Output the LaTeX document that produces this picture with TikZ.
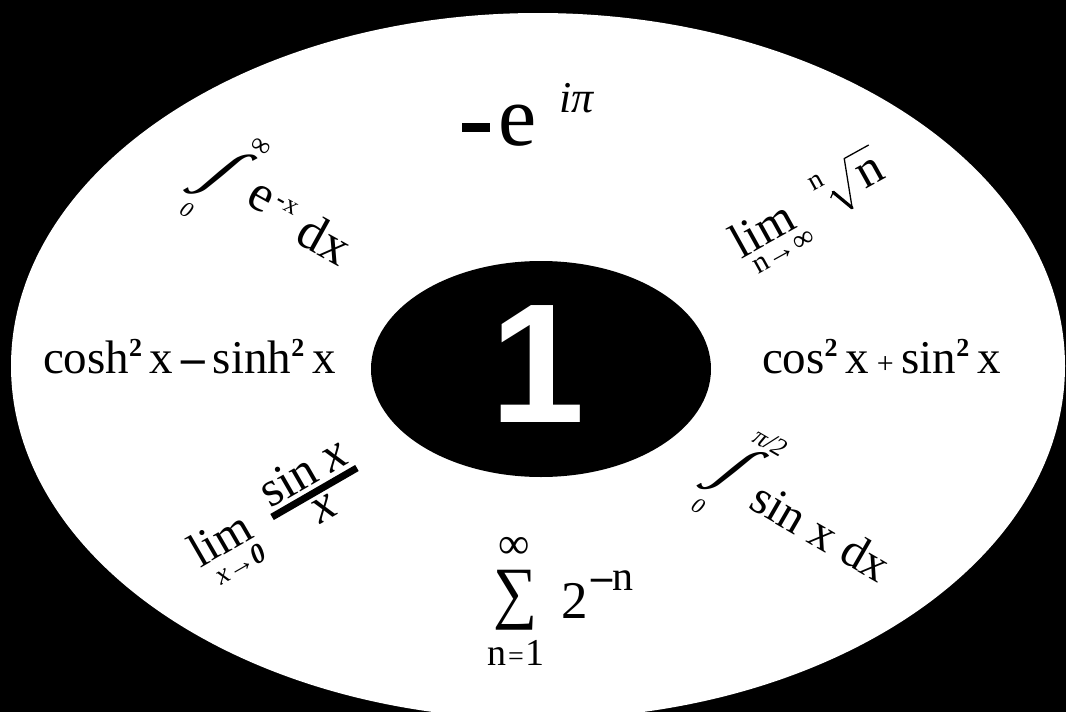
\documentclass[tikz,border=0pt]{standalone}
\usepackage{fontspec}
\usepackage{graphicx}
\setmainfont{Liberation Serif}
\newfontfamily\sansone{Liberation Sans}
\usetikzlibrary{shapes.geometric}
\newcommand{\fsz}[1]{\fontsize{#1}{#1}\selectfont}
\newcommand{\sqd}{\raisebox{0.36em}{\fsz{26}\bfseries 2}}
\newcommand{\bigintg}[1]{\resizebox*{!}{#1}{∫}}
\begin{document}
\begin{tikzpicture}[x=1pt,y=-1pt,
  txt/.style={inner sep=0pt, outer sep=0pt, text=black},
  slint/.style={inner sep=0pt, outer sep=0pt, xslant=0.38}]
\useasboundingbox (0,0) rectangle (1066,712);
\fill[black] (0,0) rectangle (1066,712);
\begin{scope}
\clip (0,0) rectangle (1066,712);
\fill[white] (538,366) ellipse [x radius=527pt, y radius=353pt];
\end{scope}
\node[ellipse, fill=black, minimum width=340pt, minimum height=216pt, inner sep=0pt] (core) at (541,369) {};
\node[txt, text=white, anchor=base, font=\sansone\bfseries\fsz{170}] (one) at (538,422) {1};

% top
\node[txt, anchor=south west] (neg) at (462,132) {\rule{28pt}{9pt}};
\node[txt, anchor=base west, font=\fsz{86}] (ee) at (498,145) {e};
\node[txt, anchor=base west, font=\itshape\fsz{44}] (ipi) at (559,112) {iπ};

% left / right
\node[txt, anchor=base west, font=\fsz{47}] (hyp) at (43,373) {cosh\sqd\,x\,\textbf{–}\,sinh\sqd\,x};
\node[txt, anchor=base west, font=\fsz{47}] (trig) at (762,373) {cos\sqd\,x\,{\fsz{30}+}\,sin\sqd\,x};

% bottom sum
\node[txt] (sig) at (515,600) {\resizebox*{44pt}{60pt}{∑}};
\node[txt, font=\fsz{44}] (inf) at (514,548) {∞};
\node[txt, anchor=base west, font=\fsz{53}] (two) at (561,618) {2};
\node[txt, anchor=base west, font=\fsz{42}] (negn) at (591,590) {\textbf{–}n};
\node[txt, anchor=base, font=\fsz{38}] (nlow) at (516,665) {n\kern2pt{\fsz{28}=}\kern2pt 1};

% top-left integral
\begin{scope}[shift={(260,199)}, rotate=-29, transform shape]
\node[txt, font=\fsz{52}] (tle) at (0,0) {e};
\node[txt, font=\fsz{26}] (tlx) at (26.5,-8) {\textbf{-}x};
\node[txt, font=\fsz{52}] (tldx) at (76,3) {dx};
\node[slint] (tlint) at (-46,-2) {\bigintg{66pt}};
\node[txt, font=\itshape\fsz{22}] (tl0) at (-59,45) {0};
\node[txt, font=\fsz{28}] (tlinf) at (-25,-45.5) {∞};
\end{scope}

% top-right limit
\begin{scope}[shift={(761.7,228.3)}, rotate=29, transform shape]
\node[txt, font=\fsz{49}] (trlim) at (0,0) {lim};
\node[txt, font=\fsz{30}] (trsub) at (8,32) {n→∞};
\node[txt, font=\fsz{28}] (tridx) at (70,-14) {n};
\node[txt, font=\fsz{50}] (trn) at (122,4) {n};
\coordinate (rt1) at (75,7);
\coordinate (rt2) at (80,3);
\coordinate (rt3) at (89,26);
\coordinate (rt4) at (106,-21);
\coordinate (rt5) at (134,-21);
\draw[line width=1.2pt, line join=round] (rt1) -- (rt2);
\draw[line width=3.2pt, line cap=round] (rt2) -- (rt3);
\draw[line width=1.3pt, line join=miter] (rt3) -- (rt4) -- (rt5);
\end{scope}

% bottom-left limit
\begin{scope}[shift={(314.5,492.5)}, rotate=30, transform shape]
\fill[black] (-49,-3.5) rectangle (49,3.5);
\node[txt, anchor=base, font=\fsz{50}] (blnum) at (0,-8) {sin \textit{x}};
\node[txt, anchor=north, font=\itshape\fsz{50}] (blden) at (0,8) {x};
\node[txt, font=\fsz{48}] (bllim) at (-105,-8) {lim};
\node[txt, font=\fsz{28}] (blsub) at (-100,25) {\textit{x}→\textbf{\textit{0}}};
\end{scope}

% bottom-right integral
\begin{scope}[shift={(733,471.5)}, rotate=-30, transform shape]
\node[slint] (brint) at (0,0) {\bigintg{64pt}};
\node[txt, font=\itshape\fsz{22}] (br0) at (-13,47) {0};
\node[txt, font=\itshape\fsz{26}] (brlim) at (18,-44) {π/2};
\node[txt, font=\fsz{48}] (brbody) at (106,7.5) {sin x dx};
\end{scope}
\end{tikzpicture}
\end{document}
